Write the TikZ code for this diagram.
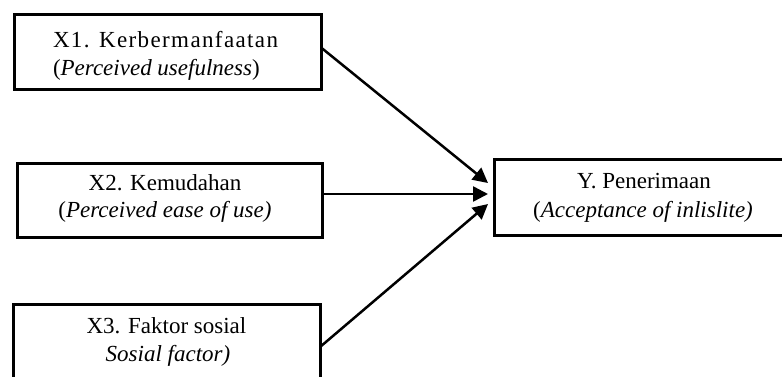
\documentclass[tikz,border=0pt]{standalone}
\usepackage{fontspec}
\setmainfont{Liberation Serif}
\usetikzlibrary{arrows.meta}
\begin{document}
\begin{tikzpicture}[x=1pt,y=-1pt,
  box/.style={draw=black,line width=3pt,rectangle,inner sep=0pt,outer sep=0pt,fill=none},
  txt/.style={inner sep=0pt,outer sep=0pt,font=\fontsize{23}{28}\selectfont},
  arr/.style={line width=2.5pt,-{Triangle[length=15pt,width=15pt]}}]
\clip (0,0) rectangle (782,376);
\fill[white] (0,0) rectangle (782,376);
% boxes
\node[box,minimum width=307pt,minimum height=75pt] (x1) at (167.5,51.5) {};
\node[box,minimum width=305pt,minimum height=74pt] (x2) at (169.5,200) {};
\node[box,minimum width=307pt,minimum height=96pt] (x3) at (166.5,352) {};
\node[box,minimum width=306pt,minimum height=76pt] (y) at (647,197) {};
% texts
\node[txt,anchor=base west] (t1a) at (53,47) {\addfontfeature{LetterSpace=6}X1. Kerbermanfaatan};
\node[txt,anchor=base west] (t1b) at (53,75) {(\textit{Perceived usefulness})};
\node[txt,anchor=base] (t2a) at (165,190) {X2. Kemudahan};
\node[txt,anchor=base] (t2b) at (165,217) {(\textit{Perceived ease of use)}};
\node[txt,anchor=base] (t3a) at (166.5,333) {X3. Faktor sosial};
\node[txt,anchor=base] (t3b) at (168,361) {\textit{Sosial factor)}};
\node[txt,anchor=base] (tya) at (644,188) {Y. Penerimaan};
\node[txt,anchor=base] (tyb) at (643,217) {(\textit{Acceptance of inlislite)}};
% arrow tips
\coordinate (p1) at (488,183);
\coordinate (p2) at (488,194);
\coordinate (p3) at (488,204);
\draw[arr] ([yshift=4pt]x1.east) -- (p1);
\draw[arr] ([yshift=6pt]x2.east) -- (p2);
\draw[arr] ([yshift=5pt]x3.east) -- (p3);
\end{tikzpicture}
\end{document}
